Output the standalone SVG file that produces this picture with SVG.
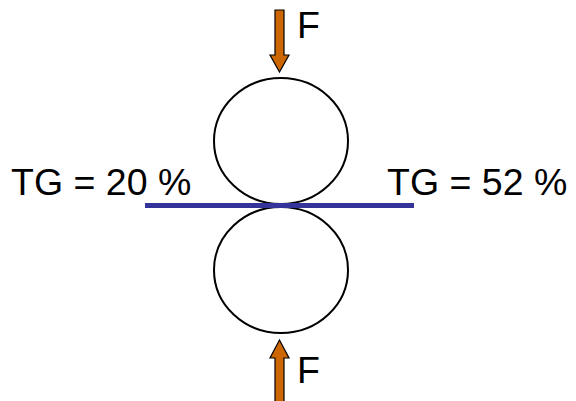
<svg xmlns="http://www.w3.org/2000/svg" width="576" height="401" viewBox="0 0 576 401">
<style>
.t{font-family:"Liberation Sans",Arial,sans-serif;font-size:37.5px;fill:#000}
.roll{fill:#fff;stroke:#000;stroke-width:2}
.arr{fill:#cc6600;stroke:#000;stroke-width:1.2}
</style>
<rect width="576" height="401" fill="#fff"/>
<g id="roll-top"><ellipse class="roll" cx="281" cy="141" rx="67" ry="63"/></g>
<g id="roll-bottom"><ellipse class="roll" cx="281" cy="270" rx="67" ry="63"/></g>
<g id="strip"><line x1="145" y1="205.5" x2="414" y2="205.5" stroke="#333399" stroke-width="5"/></g>
<g id="force-top">
<polygon class="arr" points="275,10 284,10 284,55 289,55 279.5,72 270,55 275,55"/>
<text class="t" x="297" y="38">F</text>
</g>
<g id="force-bottom">
<polygon class="arr" points="275,402 284,402 284,358 289,358 279.5,340 270,358 275,358"/>
<text class="t" x="297" y="383">F</text>
</g>
<g id="label-in"><text class="t" x="11" y="195">TG = 20 %</text></g>
<g id="label-out"><text class="t" x="387" y="195">TG = 52 %</text></g>
</svg>
